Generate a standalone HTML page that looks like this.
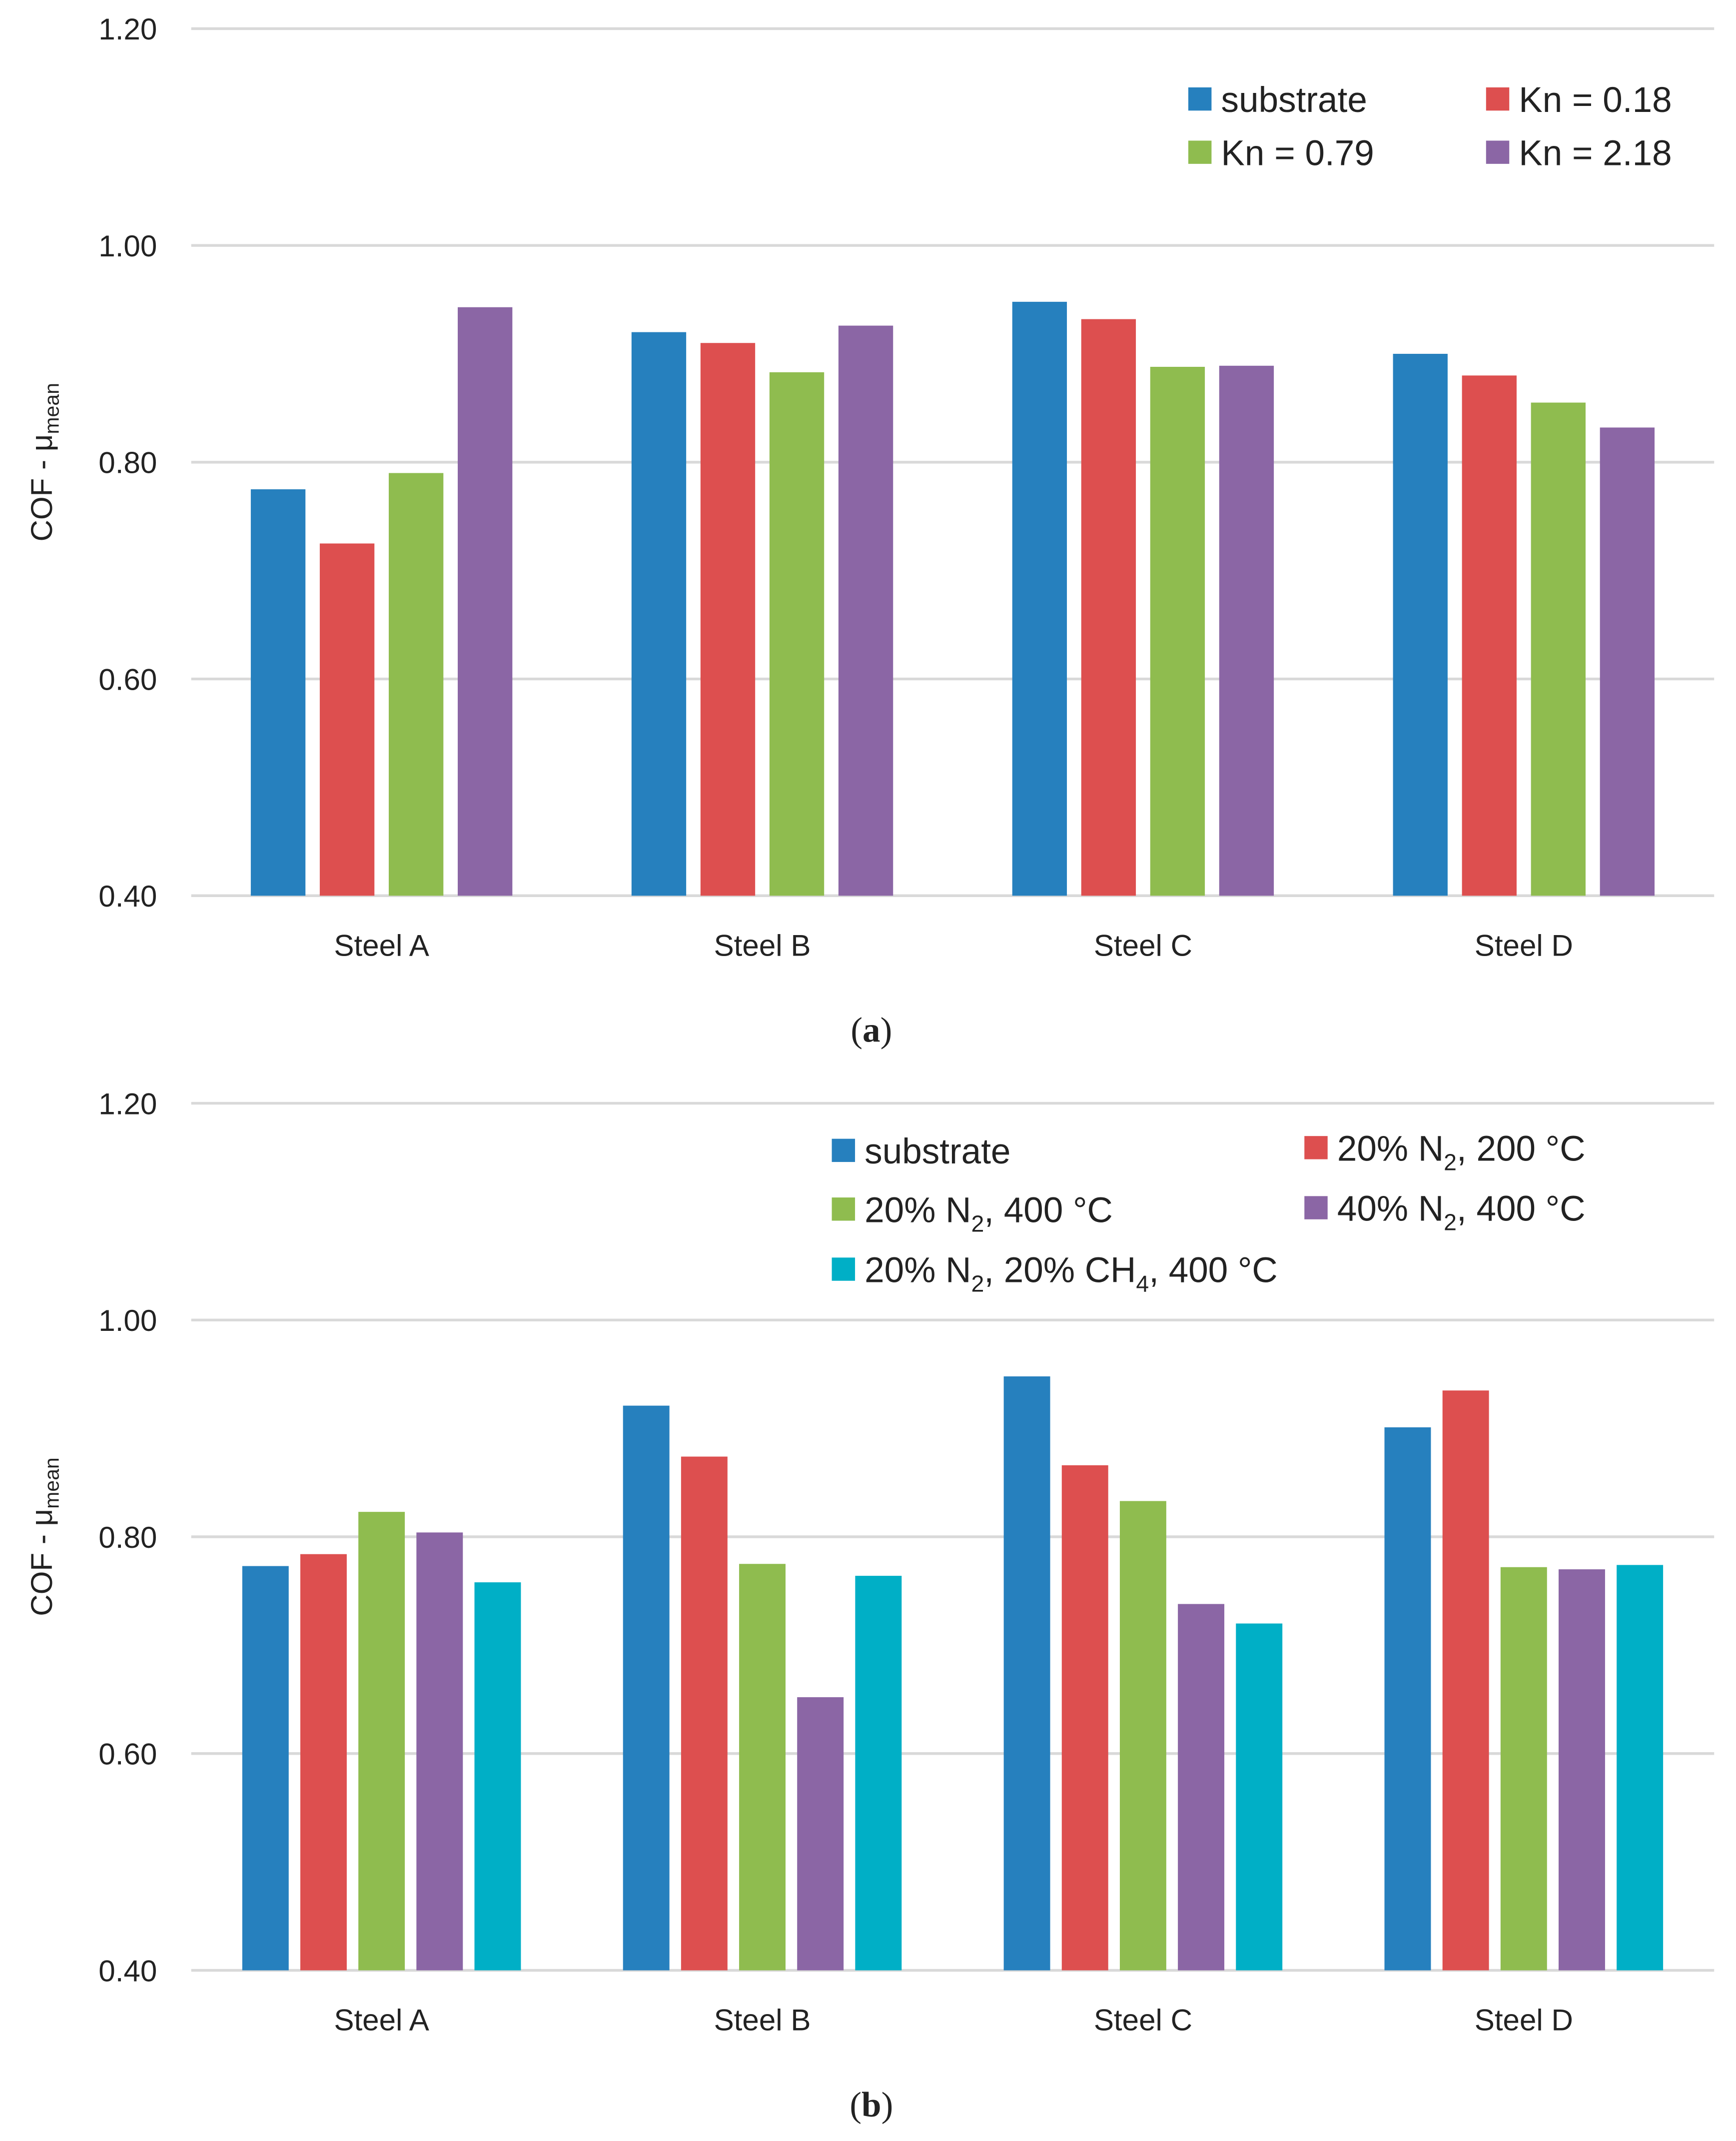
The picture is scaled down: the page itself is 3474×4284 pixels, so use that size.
<!DOCTYPE html>
<html><head><meta charset="utf-8"><style>
html,body{margin:0;padding:0;background:#fff;}
svg{display:block;}
text{font-family:"Liberation Sans",sans-serif;fill:#222;}
</style></head><body>
<svg id="fig" width="3474" height="4284" viewBox="0 0 1271 1568" preserveAspectRatio="none" xmlns="http://www.w3.org/2000/svg"></svg>
<script>
const categories = ["Steel A","Steel B","Steel C","Steel D"];
const yTicks = [0.40,0.60,0.80,1.00,1.20];
const tickLabels = ["0.40","0.60","0.80","1.00","1.20"];
// chart a
const aSubstrate = [0.775,0.920,0.948,0.900];
const aKn018 = [0.725,0.910,0.932,0.880];
const aKn079 = [0.790,0.883,0.888,0.855];
const aKn218 = [0.943,0.926,0.889,0.832];
// chart b
const bSubstrate = [0.773,0.921,0.948,0.901];
const b20N200 = [0.784,0.874,0.866,0.935];
const b20N400 = [0.823,0.775,0.833,0.772];
const b40N400 = [0.804,0.652,0.738,0.770];
const b20N20CH4 = [0.758,0.764,0.720,0.774];

const NS="http://www.w3.org/2000/svg";
const svg=document.getElementById('fig');
function mk(tag,attrs,parent){const e=document.createElementNS(NS,tag);for(const k in attrs)e.setAttribute(k,attrs[k]);(parent||svg).appendChild(e);return e;}

function chart(cfg){
  const g=mk('g',{});
  
  
  const yScale=v=>cfg.y0+(v-0.4)/(1.2-0.4)*(cfg.y1-cfg.y0);
  const xL=140,xR=1255,cw=(xR-xL)/categories.length;
  yTicks.forEach((t,i)=>{
    const y=yScale(t);
    const l=mk('line',{x1:xL,x2:xR,y1:y,y2:y,stroke:'#d9d9d9','stroke-width':2},g);
    
    
    const tx=mk('text',{x:115,y:y+8,'text-anchor':'end','font-size':22},g);
    tx.textContent=tickLabels[i];
    
    
  });
  const n=cfg.series.length;
  categories.forEach((c,ci)=>{
    const cx=xL+cw*(ci+0.5);
    const start=cx-(n*cfg.step-(cfg.step-cfg.bw))/2;
    cfg.series.forEach((s,si)=>{
      const v=s.data[ci];
      const y=yScale(v);
      const r=mk('rect',{x:start+si*cfg.step,y:y,width:cfg.bw,height:cfg.y0-y,fill:s.color},g);
      
      
    });
    const t=mk('text',{x:cx,y:cfg.y0+44,'text-anchor':'middle','font-size':22},g);
    t.textContent=c;
    
    
  });
  const axT=mk('text',{transform:`translate(38,${(cfg.y0+cfg.y1)/2}) rotate(-90)`,'text-anchor':'middle','font-size':22},g);
  axT.innerHTML='COF - μ<tspan font-size="15" dy="5">mean</tspan>';
  
  
  cfg.series.forEach(s=>{
    const lg=mk('g',{},g);
    
    
    mk('rect',{x:s.lx,y:s.ly-9,width:17,height:17,fill:s.color},lg);
    const t=mk('text',{x:s.lx+24,y:s.ly+9,'font-size':26},lg);
    t.innerHTML=s.label;
  });
  const cap=mk('text',{x:638,y:cfg.capY,'text-anchor':'middle','font-size':26,style:'font-family:"Liberation Serif",serif'},g);
  cap.innerHTML='(<tspan font-weight="bold">'+cfg.cap+'</tspan>)';
  
  
}
const sub='<tspan font-size="17" dy="7">2</tspan><tspan dy="-7">';
chart({name:'chart-a',y0:656,y1:21,bw:40,step:50.5,capY:763,cap:'a',series:[
 {data:aSubstrate,color:'#2680BE',label:'substrate',lx:870,ly:73},
 {data:aKn018,color:'#DD4F4F',label:'Kn = 0.18',lx:1088,ly:73},
 {data:aKn079,color:'#8FBC4F',label:'Kn = 0.79',lx:870,ly:112},
 {data:aKn218,color:'#8B66A5',label:'Kn = 2.18',lx:1088,ly:112}]});
chart({name:'chart-b',y0:1443,y1:808,bw:34,step:42.5,capY:1550,cap:'b',series:[
 {data:bSubstrate,color:'#2680BE',label:'substrate',lx:609,ly:843},
 {data:b20N200,color:'#DD4F4F',label:'20% N'+sub+', 200 °C</tspan>',lx:955,ly:841},
 {data:b20N400,color:'#8FBC4F',label:'20% N'+sub+', 400 °C</tspan>',lx:609,ly:886},
 {data:b40N400,color:'#8B66A5',label:'40% N'+sub+', 400 °C</tspan>',lx:955,ly:885},
 {data:b20N20CH4,color:'#00AFC6',label:'20% N'+sub+', 20% CH<tspan font-size="17" dy="7">4</tspan><tspan dy="-7">, 400 °C</tspan></tspan>',lx:609,ly:930}]});
</script>
</body></html>
